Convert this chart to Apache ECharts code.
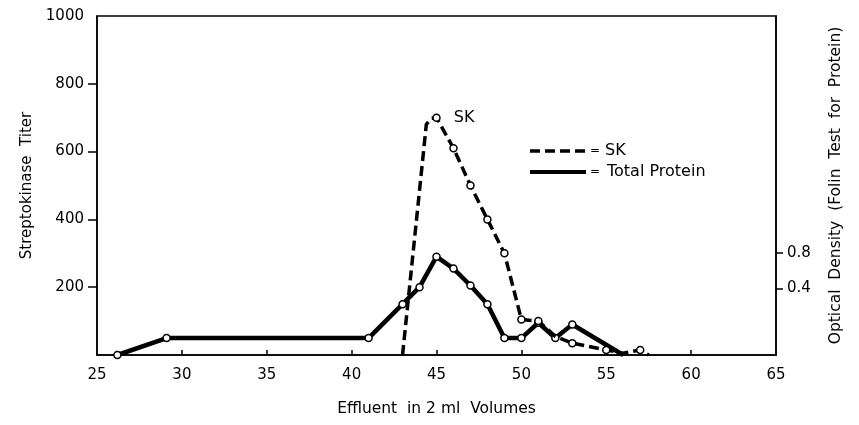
<!DOCTYPE html>
<html>
<head>
<meta charset="utf-8">
<script src="https://cdn.jsdelivr.net/npm/echarts@6/dist/echarts.min.js"></script>
<style>
html,body{margin:0;padding:0;background:#fff;}
#chart{width:859px;height:425px;}
</style>
</head>
<body>
<div id="chart"></div>
<script type="text/javascript">
// effluent volume (x) and values
var proteinX = [26.2, 29.1, 41, 43, 44, 45, 46, 47, 48, 49, 50, 51, 52, 53, 56];
var proteinY = [0, 50, 50, 150, 200, 290, 255, 205, 150, 50, 50, 95, 50, 90, 0];
var proteinMark = [1, 1, 1, 1, 1, 1, 1, 1, 1, 1, 1, 1, 1, 1, 0];

var skX = [43, 44.4, 44.7, 45, 46, 47, 48, 49, 50, 51, 52, 53, 55, 56, 57, 57.5];
var skY = [0, 680, 698, 700, 610, 500, 400, 300, 105, 100, 55, 35, 15, 5, 15, 0];
var skMark = [0, 0, 0, 1, 1, 1, 1, 1, 1, 1, 0, 1, 1, 0, 1, 0];

var xTicks = [25, 30, 35, 40, 45, 50, 55, 60, 65];
var leftLabels = [200, 400, 600, 800, 1000];
var rightLabels = [0.4, 0.8];

var font = 'DejaVu Sans';

var toData = function(xs, ys, marks, peakLabel) {
    var out = [];
    for (var i = 0; i < xs.length; i++) {
        var item = {value: [xs[i], ys[i]]};
        if (!marks[i]) item.symbol = 'none';
        if (peakLabel && ys[i] == Math.max.apply(null, ys)) {
            item.label = {
                show: true, position: 'right', distance: 13,
                formatter: peakLabel, color: '#000', fontFamily: font, fontSize: 16
            };
        }
        out.push(item);
    }
    return out;
};

var chart = echarts.init(document.getElementById('chart'));
var option = {
    backgroundColor: '#ffffff',
    animation: false,
    grid: {
        left: 97, right: 83, top: 16, bottom: 70,
        show: true, borderColor: '#000', borderWidth: 1.5
    },
    xAxis: {
        type: 'value', min: 25, max: 65, interval: 5,
        name: 'Effluent  in 2 ml  Volumes',
        nameLocation: 'middle', nameGap: 46,
        nameTextStyle: {color: '#000', fontFamily: font, fontSize: 15.5},
        axisLine: {lineStyle: {color: '#000', width: 1.5}},
        axisTick: {inside: true, length: 5, lineStyle: {color: '#000', width: 1.5},
                   customValues: xTicks.slice(1, -1)},
        axisLabel: {customValues: xTicks, margin: 13, color: '#000', fontFamily: font, fontSize: 15},
        splitLine: {show: false}
    },
    yAxis: [{
        type: 'value', min: 0, max: 1000, interval: 200,
        name: 'Streptokinase  Titer',
        nameLocation: 'middle', nameGap: 58,
        nameTextStyle: {color: '#000', fontFamily: font, fontSize: 15},
        axisLine: {show: true, lineStyle: {color: '#000', width: 1.5}},
        axisTick: {show: true, length: 9, lineStyle: {color: '#000', width: 1.5},
                   customValues: leftLabels.slice(0, -1)},
        axisLabel: {customValues: leftLabels, margin: 13, color: '#000', fontFamily: font, fontSize: 15,
                    formatter: function(v) { return String(v); }},
        splitLine: {show: false}
    }, {
        type: 'value', min: -0.354, max: 3.486, position: 'right',
        name: 'Optical  Density  (Folin  Test  for  Protein)',
        nameLocation: 'middle', nameGap: 52, nameRotate: 90,
        nameTextStyle: {color: '#000', fontFamily: font, fontSize: 15.5},
        axisLine: {show: true, lineStyle: {color: '#000', width: 1.5}},
        axisTick: {show: true, length: 7, lineStyle: {color: '#000', width: 1.5},
                   customValues: rightLabels},
        axisLabel: {customValues: rightLabels, margin: 11, color: '#000', fontFamily: font, fontSize: 15,
                    formatter: function(v) { return v.toFixed(1); }},
        splitLine: {show: false}
    }],
    graphic: [
        {type: 'line', shape: {x1: 530, y1: 151, x2: 588, y2: 151},
         style: {stroke: '#000', lineWidth: 3.5, lineDash: [10, 5]}},
        {type: 'text', x: 590, y: 151, style: {text: '=', font: '12px "DejaVu Sans"', fill: '#000', verticalAlign: 'middle'}},
        {type: 'text', x: 605, y: 151, style: {text: 'SK', font: '16px "DejaVu Sans"', fill: '#000', verticalAlign: 'middle'}},
        {type: 'line', shape: {x1: 530, y1: 172, x2: 586, y2: 172},
         style: {stroke: '#000', lineWidth: 4}},
        {type: 'text', x: 590, y: 172, style: {text: '=', font: '12px "DejaVu Sans"', fill: '#000', verticalAlign: 'middle'}},
        {type: 'text', x: 607, y: 172, style: {text: 'Total Protein', font: '16px "DejaVu Sans"', fill: '#000', verticalAlign: 'middle'}}
    ],
    series: [{
        name: 'Total Protein',
        type: 'line',
        yAxisIndex: 0,
        data: toData(proteinX, proteinY, proteinMark),
        symbol: 'circle', symbolSize: 7,
        itemStyle: {color: '#fff', borderColor: '#000', borderWidth: 1.5},
        lineStyle: {color: '#000', width: 4.5, join: 'round'},
        z: 2
    }, {
        name: 'SK',
        type: 'line',
        yAxisIndex: 0,
        data: toData(skX, skY, skMark, 'SK'),
        symbol: 'circle', symbolSize: 7,
        itemStyle: {color: '#fff', borderColor: '#000', borderWidth: 1.5},
        lineStyle: {color: '#000', width: 3.5, type: [10, 5], join: 'round'},
        z: 3
    }]
};
chart.setOption(option);
</script>
</body>
</html>
